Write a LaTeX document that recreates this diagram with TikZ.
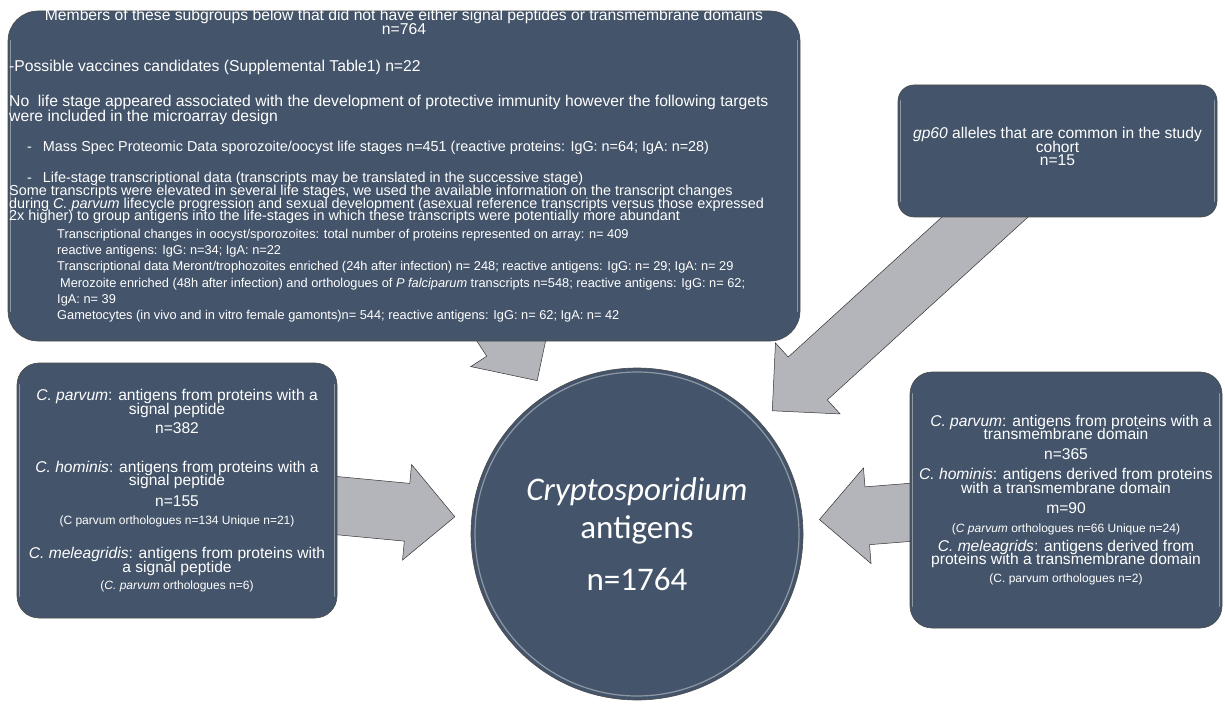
\documentclass[tikz,border=0pt]{standalone}
\usepackage{fontspec}
\setmainfont{Liberation Sans}
\newfontfamily\calibfont{Carlito}
\usetikzlibrary{calc,backgrounds}
\definecolor{slate}{HTML}{44546A}
\definecolor{arrowgray}{HTML}{B4B5BA}
\newcommand{\tightlines}{\lineskiplimit=-50pt\relax}
\tikzset{panel/.style={draw=black!70,line width=0.6pt,fill=slate,inner sep=0pt}}
\tikzset{glint/.style={white,opacity=0.4,line width=1.2pt,line cap=round}}
\tikzset{fat/.style={draw=black!80,line width=0.5pt,fill=arrowgray,line join=miter}}
\tikzset{txt/.style={text=white,inner sep=0pt}}
\tikzset{bigtxt/.style={txt,font=\fontsize{15.7}{15}\selectfont\tightlines}}
\tikzset{midtxt/.style={txt,font=\fontsize{14.4}{12.7}\selectfont\tightlines}}
\tikzset{smalltxt/.style={txt,font=\fontsize{12.8}{16.2}\selectfont\tightlines}}
\tikzset{boxtxt/.style={text=white,align=center,font=\fontsize{15.6}{13.5}\selectfont\tightlines}}
\newcommand{\notesize}{\fontsize{12}{13.5}\selectfont}
\newcommand{\fatarrow}[2]{%
  \coordinate (tip) at ($(#2.center)!183pt!(#1.center)$);
  \coordinate (neck) at ($(tip)!48pt!(#1.center)$);
  \draw[fat] ($(#1.center)!29pt!90:(tip)$) -- ($(neck)!29pt!90:(tip)$)
    -- ($(neck)!48pt!90:(tip)$) -- (tip) -- ($(neck)!48pt!-90:(tip)$)
    -- ($(neck)!29pt!-90:(tip)$) -- ($(#1.center)!29pt!-90:(tip)$) -- cycle;}
\begin{document}
\begin{tikzpicture}[x=1pt,y=-1pt]
  \useasboundingbox (0,0) rectangle (1225,708);
  % boxes
  \node[panel,rounded corners=30pt,minimum width=792pt,minimum height=330pt] (pool) at (404,176) {};
  \node[panel,rounded corners=16pt,minimum width=319pt,minimum height=132pt] (gp) at (1057.5,151) {};
  \node[panel,rounded corners=22pt,minimum width=320pt,minimum height=255pt,boxtxt] (sig) at (177,490.5)
    {\textit{C. parvum}: antigens from proteins with a\\signal peptide\\[5.5pt]n=382\\[25.5pt]
     \textit{C. hominis}: antigens from proteins with a\\signal peptide\\[7.5pt]n=155\\[4.5pt]
     {\notesize(C parvum orthologues n=134 Unique n=21)}\\[20.5pt]
     \textit{C. meleagridis}: antigens from proteins with\\a signal peptide\\[3.5pt]
     {\notesize(\textit{C. parvum} orthologues n=6)}};
  \node[panel,rounded corners=22pt,minimum width=312pt,minimum height=256pt,boxtxt] (tm) at (1066,500)
    {\hspace*{10pt}\textit{C. parvum}: antigens from proteins with a\\transmembrane domain\\[6.5pt]n=365\\[6.5pt]
     \textit{C. hominis}: antigens derived from proteins\\with a transmembrane domain\\[6.5pt]m=90\\[5.5pt]
     {\notesize(\textit{C parvum} orthologues n=66 Unique n=24)}\\[5.5pt]
     \textit{C. meleagrids}: antigens derived from\\proteins with a transmembrane domain\\[4.5pt]
     {\notesize(C. parvum orthologues n=2)}};
  \node[panel,circle,minimum size=332pt,text=white,align=center,
    font=\calibfont\fontsize{33}{38}\selectfont] (ag) at (637,534)
    {\textit{Cryptosporidium}\\antigens\\[14pt]n=1764};
  \foreach \b/\rad in {pool/30,gp/16,sig/22,tm/22}{
    \draw[glint] ([xshift=3pt,yshift=-\rad pt]\b.north west) -- ([xshift=3pt,yshift=\rad pt]\b.south west);
    \draw[glint] ([xshift=-3pt,yshift=-\rad pt]\b.north east) -- ([xshift=-3pt,yshift=\rad pt]\b.south east);
  }
  \draw[glint] (ag.center) circle[radius=162pt];
  % texts of the top box
  \node[bigtxt,align=center,font=\fontsize{15.7}{14}\selectfont\tightlines] (head) at (404,22)
    {Members of these subgroups below that did not have either signal peptides or transmembrane domains\\n=764};
  \node[bigtxt,anchor=west] (cand) at (9,67) {-Possible vaccines candidates (Supplemental Table1) n=22};
  \node[bigtxt,anchor=north west,align=left] (stage) at (9,95)
    {No\ \ life stage appeared associated with the development of protective immunity however the following targets\\
     were included in the microarray design};
  \node[midtxt,anchor=west] (mass) at (27,148)
    {-\hspace{11pt}Mass Spec Proteomic Data sporozoite/oocyst life stages n=451 (reactive proteins: IgG: n=64; IgA: n=28)};
  \node[midtxt,anchor=north west,align=left] (life) at (9,172)
    {\hspace*{18pt}-\hspace{11pt}Life-stage transcriptional data (transcripts may be translated in the successive stage)\\
     Some transcripts were elevated in several life stages, we used the available information on the transcript changes\\
     during \textit{C. parvum} lifecycle progression and sexual development (asexual reference transcripts versus those expressed\\
     2x higher) to group antigens into the life-stages in which these transcripts were potentially more abundant};
  \node[smalltxt,anchor=north west,align=left] (stages) at (57,229)
    {Transcriptional changes in oocyst/sporozoites: total number of proteins represented on array: n= 409\\
     reactive antigens: IgG: n=34; IgA: n=22\\
     Transcriptional data Meront/trophozoites enriched (24h after infection) n= 248; reactive antigens: IgG: n= 29; IgA: n= 29\\
     \hspace*{3pt}Merozoite enriched (48h after infection) and orthologues of \textit{P falciparum} transcripts n=548; reactive antigens: IgG: n= 62;\\
     IgA: n= 39\\
     Gametocytes (in vivo and in vitro female gamonts)n= 544; reactive antigens: IgG: n= 62; IgA: n= 42};
  \node[txt,align=center,font=\fontsize{15.6}{13.5}\selectfont\tightlines] (gplabel) at ([yshift=4.5pt]gp.center)
    {\textit{gp60} alleles that are common in the study\\cohort\\n=15};
  % arrows behind everything
  \begin{pgfonlayer}{background}
    \fill[white] (0,0) rectangle (1225,708);
    \fatarrow{pool}{ag}
    \fatarrow{gp}{ag}
    \fatarrow{sig}{ag}
    \fatarrow{tm}{ag}
  \end{pgfonlayer}
\end{tikzpicture}
\end{document}
